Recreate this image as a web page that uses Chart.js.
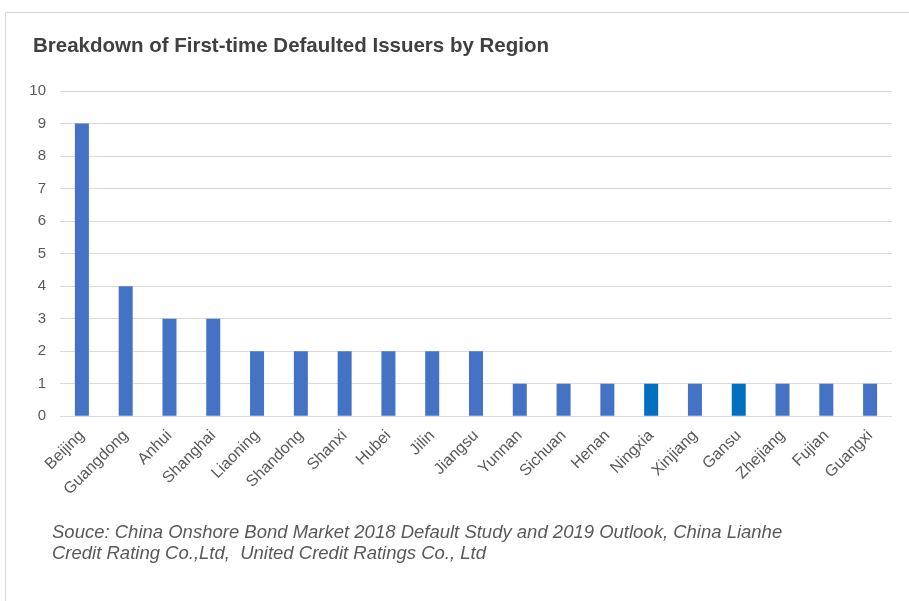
<html><head>
<script src="https://cdn.jsdelivr.net/npm/chart.js@4/dist/chart.umd.min.js"></script>
<style>
  body { margin: 0; background: #ffffff; }
  #wrap { width: 909px; height: 601px; }
</style>
</head>
<body>
<div id="wrap"><canvas id="bar-chart" width="909" height="601"></canvas></div>
<script>
var regions = ["Beijing", "Guangdong", "Anhui", "Shanghai", "Liaoning", "Shandong", "Shanxi", "Hubei", "Jilin", "Jiangsu",
  "Yunnan", "Sichuan", "Henan", "Ningxia", "Xinjiang", "Gansu", "Zhejiang", "Fujian", "Guangxi"];
var issuers = [9, 4, 3, 3, 2, 2, 2, 2, 2, 2, 1, 1, 1, 1, 1, 1, 1, 1, 1];
var highlighted = ["Ningxia", "Gansu"];
var yTicks = [0, 1, 2, 3, 4, 5, 6, 7, 8, 9, 10];
var chartTitle = "Breakdown of First-time Defaulted Issuers by Region";
var sourceLines = [
  "Souce: China Onshore Bond Market 2018 Default Study and 2019 Outlook, China Lianhe",
  "Credit Rating Co.,Ltd,  United Credit Ratings Co., Ltd"
];

var barColors = regions.map(function (r) {
  return highlighted.indexOf(r) >= 0 ? "#0070C0" : "#4472C4";
});

// frame, title and source note drawn straight on the canvas
var extras = {
  id: "extras",
  beforeDraw: function (chart) {
    var ctx = chart.ctx;
    ctx.save();
    ctx.fillStyle = "#ffffff";
    ctx.fillRect(0, 0, chart.width, chart.height);
    ctx.strokeStyle = "#d9d9d9";
    ctx.lineWidth = 1;
    ctx.beginPath();
    ctx.moveTo(5.5, chart.height);
    ctx.lineTo(5.5, 12.5);
    ctx.lineTo(chart.width, 12.5);
    ctx.stroke();
    ctx.restore();
  },
  afterDraw: function (chart) {
    var ctx = chart.ctx;
    ctx.save();
    ctx.textBaseline = "middle";
    ctx.fillStyle = "#404040";
    ctx.font = "bold 20.5px 'Liberation Sans', Arial, sans-serif";
    ctx.fillText(chartTitle, 33, 46);
    ctx.fillStyle = "#595959";
    ctx.font = "italic 18.5px 'Liberation Sans', Arial, sans-serif";
    ctx.fillText(sourceLines[0], 52, 533);
    ctx.fillText(sourceLines[1], 52, 554);
    ctx.restore();
  }
};

new Chart(document.getElementById("bar-chart"), {
  type: "bar",
  data: {
    labels: regions,
    datasets: [{
      data: issuers,
      backgroundColor: barColors,
      barPercentage: 0.32,
      categoryPercentage: 1.0
    }]
  },
  options: {
    responsive: false,
    animation: false,
    layout: { padding: { left: 20, right: 17, top: 91, bottom: 100 } },
    plugins: {
      legend: { display: false },
      tooltip: { enabled: false }
    },
    scales: {
      y: {
        min: 0,
        max: 10,
        afterBuildTicks: function (axis) {
          axis.ticks = yTicks.map(function (v) { return { value: v }; });
        },
        afterFit: function (axis) { axis.width = 40; },
        border: { display: false },
        grid: { color: "#d9d9d9", drawTicks: false },
        ticks: {
          color: "#595959",
          padding: 14,
          font: { family: "'Liberation Sans', Arial, sans-serif", size: 15 }
        }
      },
      x: {
        afterFit: function (axis) { axis.paddingLeft = 0; },
        border: { display: false },
        grid: { display: false },
        ticks: {
          color: "#595959",
          maxRotation: 45,
          minRotation: 45,
          padding: 2,
          font: { family: "'Liberation Sans', Arial, sans-serif", size: 16 }
        }
      }
    }
  },
  plugins: [extras]
});
</script>
</body>
</html>
